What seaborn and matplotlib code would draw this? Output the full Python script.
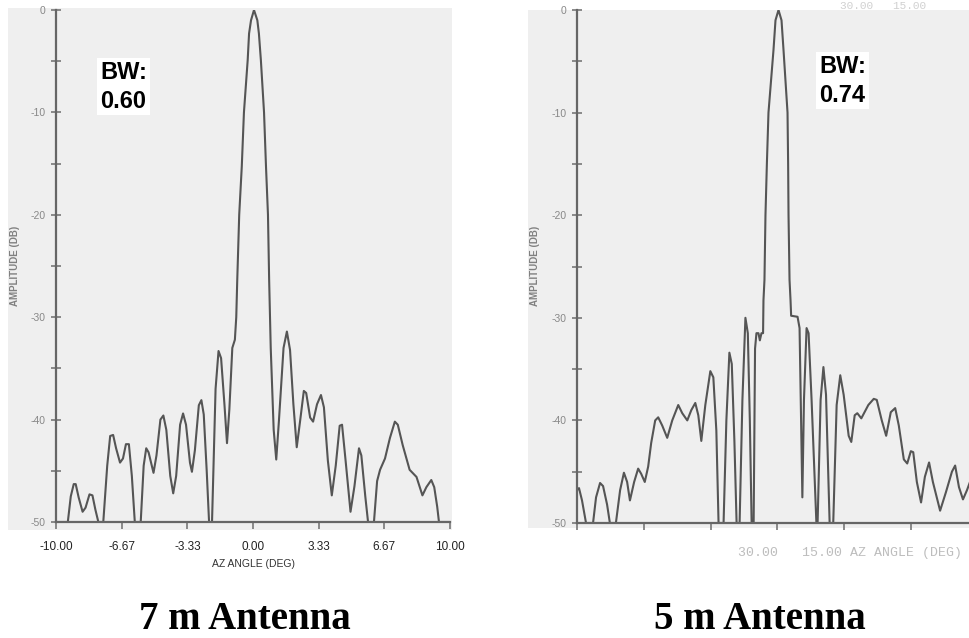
"""
Two scanned-style antenna azimuth patterns (7 m and 5 m antenna)
side by side, with their beamwidths marked.
"""
import numpy as np
import pandas as pd
import matplotlib
matplotlib.use("Agg")
from matplotlib import pyplot as plt
from matplotlib.patches import Rectangle
import seaborn as sns

# 7 m antenna pattern (azimuth deg, amplitude dB)
az_7m = [
    -10.00, -9.40, -9.25, -9.10, -9.00, -8.85, -8.65, -8.50, -8.30, -8.15,
    -8.00, -7.85, -7.60, -7.40, -7.25, -7.10, -6.95, -6.75, -6.60, -6.45,
    -6.30, -6.15, -6.00, -5.70, -5.55, -5.42, -5.30, -5.05, -4.90, -4.70,
    -4.55, -4.40, -4.20, -4.05, -3.90, -3.70, -3.55, -3.40, -3.20, -3.10,
    -2.95, -2.75, -2.62, -2.50, -2.35, -2.23, -2.08, -1.90, -1.75, -1.62,
    -1.45, -1.32, -1.20, -1.05, -0.92, -0.85, -0.80, -0.70, -0.57, -0.46,
    -0.27, -0.20, -0.10, 0.05, 0.22, 0.30, 0.40, 0.56, 0.66, 0.76,
    0.82, 0.90, 1.05, 1.18,
    1.32, 1.55, 1.72, 1.88, 2.05, 2.22, 2.40, 2.58, 2.70, 2.90,
    3.05, 3.25, 3.45, 3.60, 3.80, 4.00, 4.20, 4.40, 4.52, 4.70,
    4.95, 5.15, 5.38, 5.50, 5.70, 5.84, 6.14, 6.30, 6.45, 6.70,
    6.95, 7.20, 7.35, 7.60, 7.95, 8.30, 8.60, 8.80, 9.05, 9.20,
    9.35, 9.44, 10.00,
]
amp_7m = [
    -50.0, -50.0, -47.5, -46.3, -46.3, -47.6, -49.0, -48.6, -47.3, -47.4,
    -48.8, -50.0, -50.0, -44.5, -41.6, -41.5, -42.8, -44.2, -43.8, -42.4,
    -42.4, -45.5, -50.0, -50.0, -44.5, -42.8, -43.2, -45.2, -43.5, -40.0,
    -39.6, -41.0, -45.5, -47.2, -45.5, -40.5, -39.4, -40.5, -44.2, -45.1,
    -43.0, -38.6, -38.1, -39.5, -45.0, -50.0, -50.0, -37.0, -33.3, -34.0,
    -38.5, -42.3, -39.0, -33.0, -32.2, -30.0, -26.4, -20.0, -15.3, -10.0,
    -4.9, -2.3, -1.0, 0.0, -1.0, -2.3, -4.9, -10.0, -15.3, -20.0,
    -26.4, -33.0, -41.0, -43.9,
    -40.0, -33.0, -31.4, -33.2, -38.5, -42.7, -40.0, -37.2, -37.4, -39.8,
    -40.2, -38.5, -37.6, -38.8, -44.0, -47.4, -44.5, -40.6, -40.5, -44.0,
    -49.0, -46.5, -42.8, -43.5, -47.5, -50.0, -50.0, -46.0, -44.9, -43.8,
    -41.8, -40.2, -40.5, -42.5, -44.9, -45.6, -47.4, -46.6, -45.9, -46.6,
    -48.5, -50.0, -50.0,
]

# 5 m antenna pattern (azimuth deg, amplitude dB)
az_5m = [
    -10.00, -9.90, -9.75, -9.55, -9.20, -9.05, -8.85, -8.70, -8.50, -8.36,
    -8.06, -7.85, -7.66, -7.50, -7.36, -7.15, -6.95, -6.80, -6.62, -6.45,
    -6.30, -6.10, -5.95, -5.75, -5.50, -5.25, -4.95, -4.75, -4.50, -4.30,
    -4.10, -3.95, -3.80, -3.60, -3.35, -3.20, -3.05, -2.94, -2.69, -2.55,
    -2.40, -2.28, -2.15, -2.04, -1.89, -1.75, -1.60, -1.48, -1.38, -1.29,
    -1.19, -1.12, -1.05, -0.95, -0.88, -0.80, -0.72, -0.70, -0.65, -0.60,
    -0.53, -0.45, -0.20, -0.10, 0.05, 0.20, 0.30, 0.50, 0.53, 0.55,
    0.60, 0.65, 0.68, 1.00, 1.10, 1.24, 1.32, 1.45, 1.55, 1.70,
    1.94, 2.00,
    2.15, 2.29, 2.42, 2.60, 2.78, 2.95, 3.13, 3.30, 3.55, 3.68,
    3.85, 3.98, 4.18, 4.53, 4.80, 4.95, 5.20, 5.42, 5.65, 5.87,
    6.05, 6.30, 6.47, 6.65, 6.77, 6.95, 7.16, 7.35, 7.56, 7.75,
    8.11, 8.40, 8.70, 8.86, 9.05, 9.25, 9.45, 9.60, 9.80,
]
amp_5m = [
    -46.8, -46.6, -47.8, -50.0, -50.0, -47.5, -46.1, -46.4, -48.2, -50.0,
    -50.0, -46.8, -45.1, -46.0, -47.8, -46.0, -44.7, -45.2, -46.0, -44.5,
    -42.2, -40.0, -39.7, -40.5, -41.7, -40.0, -38.5, -39.3, -40.0, -39.0,
    -38.3, -39.5, -42.0, -38.5, -35.2, -35.8, -41.0, -50.0, -50.0, -40.0,
    -33.4, -34.5, -42.0, -50.0, -50.0, -38.0, -30.0, -31.5, -40.0, -50.0,
    -50.0, -33.0, -31.5, -31.5, -32.2, -31.5, -31.5, -28.3, -26.3, -20.0,
    -15.0, -10.0, -3.9, -1.0, 0.0, -1.0, -3.9, -10.0, -15.0, -20.0,
    -26.3, -28.3, -29.8, -29.9, -31.0, -47.5, -38.0, -31.0, -31.5, -38.0,
    -50.0, -50.0,
    -38.0, -34.8, -37.5, -50.0, -50.0, -38.5, -35.6, -37.5, -41.5, -42.1,
    -39.5, -39.3, -39.8, -38.5, -37.9, -38.0, -40.0, -41.5, -39.2, -38.8,
    -40.5, -43.8, -44.2, -43.0, -43.1, -46.0, -48.0, -45.5, -44.1, -46.0,
    -48.8, -47.0, -45.0, -44.4, -46.5, -47.7, -46.8, -46.0, -45.0,
]

x_ticks = [-10.0, -6.67, -3.33, 0.0, 3.33, 6.67, 10.0]
x_ticklabels = ["-10.00", "-6.67", "-3.33", "0.00", "3.33", "6.67", "10.00"]
y_ticks = [-50, -40, -30, -20, -10, 0]
beamwidths = ["0.60", "0.74"]
titles = ["7 m Antenna", "5 m Antenna"]

W, H = 970, 638
PAPER = "#efefef"
INK = "#555555"
sns.set_theme(style="white")
plt.rcParams["font.family"] = ["Liberation Sans", "DejaVu Sans"]


def px(x0, y0, x1, y1):
    """pixel box (top-left origin) -> figure fraction [l, b, w, h]"""
    return [x0 / W, 1 - y1 / H, (x1 - x0) / W, (y1 - y0) / H]


fig = plt.figure(figsize=(W / 100, H / 100), dpi=100, facecolor="white")

# scanned paper background behind each plot
for box in [(8, 8, 452, 530), (528, 10, 972, 528)]:
    l, b, w, h = px(*box)
    fig.patches.append(Rectangle((l, b), w, h, transform=fig.transFigure,
                                 facecolor=PAPER, edgecolor="none", zorder=-5))

ax1 = fig.add_axes(px(56, 10, 450, 522))
ax2 = fig.add_axes(px(577, 10, 978, 523))

panels = [
    (ax1, az_7m, amp_7m, (-7.77, -5.0), 15, 245),
    (ax2, az_5m, amp_5m, (2.07, -4.4), 535, 760),
]

for i, (ax, xs, ys, bw_pos, ylab_x, title_x) in enumerate(panels):
    df = pd.DataFrame({"az": xs, "amp": ys})
    sns.lineplot(data=df, x="az", y="amp", ax=ax, color=INK, linewidth=1.5,
                 sort=False, estimator=None)
    ax.set_facecolor("none")
    ax.set_xlim(-10, 10)
    ax.set_ylim(-50, 0)
    for s in ["top", "right"]:
        ax.spines[s].set_visible(False)
    for s in ["left", "bottom"]:
        ax.spines[s].set_color("#666666")
        ax.spines[s].set_linewidth(1.6)

    ax.set_yticks(y_ticks)
    ax.set_yticklabels([str(v) for v in y_ticks])
    ax.set_yticks([-45, -35, -25, -15, -5], minor=True)
    ax.tick_params(axis="y", which="both", direction="inout", length=7,
                   width=1.2, color="#777777", labelsize=7.5,
                   labelcolor="#888888", pad=4, left=True)
    ax.set_xticks(x_ticks)
    ax.tick_params(axis="x", direction="out", length=5, width=1.2,
                   color="#777777", bottom=True)
    ax.set_xlabel("")
    ax.set_ylabel("")

    fig.text(ylab_x / W, 1 - 266 / H, "AMPLITUDE (DB)", rotation=90,
             ha="center", va="center", fontsize=7, color="#808080",
             weight="bold")

    ax.text(bw_pos[0], bw_pos[1], f"BW:\n{beamwidths[i]}", ha="left", va="top",
            fontsize=17, weight="bold", color="black", linespacing=1.3,
            bbox=dict(facecolor="white", edgecolor="none", pad=2))

    fig.text(title_x / W, 9 / H, titles[i], ha="center", va="baseline",
             fontsize=28, weight="bold", family="Liberation Serif",
             color="black")

ax1.set_xticklabels(x_ticklabels)
ax1.tick_params(axis="x", labelsize=8.5, labelcolor="#222222", pad=9)
ax2.set_xticklabels([])
fig.text(253 / W, 1 - 564 / H, "AZ ANGLE (DEG)", ha="center", va="center",
         fontsize=7.5, color="#333333")

# faint plotter text on the 5 m scan
fig.text(738 / W, 1 - 553 / H, "30.00   15.00 AZ ANGLE (DEG)", ha="left",
         va="center", fontsize=9.5, color="#bdbdbd", family="Liberation Mono")
fig.text(840 / W, 1 - 1 / H, "30.00   15.00", ha="left", va="top",
         fontsize=8, color="#d0d0d0", family="Liberation Mono")

plt.savefig("out.png", dpi=100, facecolor="white")
